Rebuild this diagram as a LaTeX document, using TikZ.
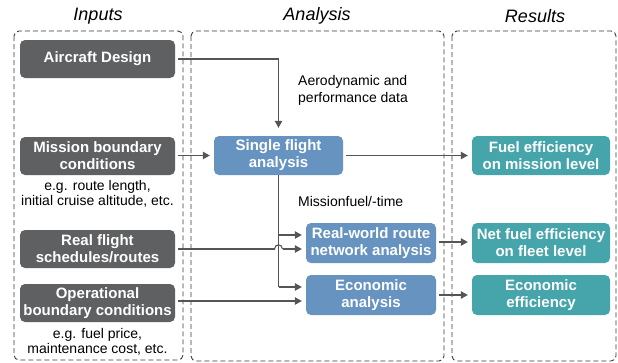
\documentclass[tikz,border=0pt]{standalone}
\usepackage{fontspec}
\setmainfont{Liberation Sans}
\usetikzlibrary{arrows.meta}
\definecolor{cgray}{HTML}{5F6062}
\definecolor{cblue}{HTML}{6693BF}
\definecolor{cteal}{HTML}{46A5AB}
\definecolor{cline}{HTML}{555555}
\definecolor{cdash}{HTML}{3A3A3A}
\tikzset{
  box/.style={rounded corners=5pt, text=white, align=center, inner sep=0pt,
    font=\bfseries\fontsize{15}{17}\selectfont, minimum height=38pt},
  inbox/.style={box, fill=cgray, minimum width=155pt},
  anbox/.style={box, fill=cblue, minimum width=130pt},
  rebox/.style={box, fill=cteal, minimum width=138pt},
  grp/.style={draw=cdash, dash pattern=on 5pt off 3pt, rounded corners=5pt, line width=0.9pt},
  note/.style={align=center, font=\fontsize{14}{15.5}\selectfont, inner sep=0pt},
  lnote/.style={align=left, font=\fontsize{14}{17}\selectfont, inner sep=0pt, anchor=west},
  ttl/.style={font=\itshape\fontsize{18}{20}\selectfont, inner sep=0pt},
  arr/.style={draw=cline, line width=1.1pt, -{Triangle[length=7pt,width=7.5pt]}, shorten <=3pt, shorten >=4pt},
  ln/.style={draw=cline, line width=1.1pt}
}
\begin{document}
\begin{tikzpicture}[x=1pt,y=-1pt]
\useasboundingbox (0,0) rectangle (618,362);
% group boxes
\draw[grp] (14,31) rectangle (183,360);
\draw[grp] (191,31) rectangle (444,361);
\draw[grp] (452,31) rectangle (616,361);
\node[ttl] (tin) at (98,16) {Inputs};
\node[ttl] (tan) at (317,16) {Analysis};
\node[ttl] (tre) at (535,16) {Results};
% inputs
\node[inbox] (ad) at (97.5,59) {Aircraft Design};
\node[inbox] (mb) at (97.5,156) {Mission boundary\\conditions};
\node[note] (mbn) at (97.5,194) {e.g. route length,\\initial cruise altitude, etc.};
\node[inbox] (rf) at (97.5,249) {Real flight\\schedules/routes};
\node[inbox] (op) at (97.5,303) {Operational\\boundary conditions};
\node[note] (opn) at (97.5,342) {e.g. fuel price,\\maintenance cost, etc.};
% analysis
\node[anbox, minimum width=129pt, minimum height=39pt] (sf) at (278.5,155.5) {Single flight\\analysis};
\node[anbox, minimum height=40pt] (rw) at (371,243) {Real-world route\\network analysis};
\node[anbox, minimum height=40pt] (ec) at (371,295) {Economic\\analysis};
% results
\node[rebox, minimum height=39pt] (fm) at (541,155.5) {Fuel efficiency\\on mission level};
\node[rebox, minimum height=40pt] (nf) at (541,243) {Net fuel efficiency\\on fleet level};
\node[rebox, minimum height=40pt] (ee) at (541,295) {Economic\\efficiency};
% labels
\node[lnote] (l1) at (298,90.5) {Aerodynamic and\\performance data};
\node[lnote] (l2) at (298,201) {Missionfuel/-time};
% connectors
\coordinate (c1) at (sf.north |- ad.east);
\draw[arr, shorten >=8pt] (ad.east) -- (c1) -- (sf.north);
\draw[arr] (mb.east |- sf.west) -- (sf.west);
\draw[arr] (sf.east) -- (fm.west);
\coordinate (b1) at (sf.south |- 0,235);
\coordinate (b2) at (sf.south |- 0,287);
\draw[ln] (sf.south) -- (b2);
\draw[arr, shorten <=0pt] (b1) -- (rw.west |- b1);
\draw[arr, shorten <=0pt] (b2) -- (ec.west |- b2);
\coordinate (h1) at ([xshift=-4pt]sf.south |- rf.east);
\coordinate (h2) at ([xshift=4pt]sf.south |- rf.east);
\draw[ln, shorten <=3pt] (rf.east) -- (h1);
\draw[ln] (h1) .. controls ([yshift=5.5pt]h1) and ([yshift=5.5pt]h2) .. (h2);
\draw[arr, shorten <=0pt] (h2) -- (rw.west |- rf.east);
\coordinate (o1) at (op.east |- 0,301);
\draw[arr] (o1) -- (ec.west |- o1);
\draw[arr] (rw.east |- 0,242) -- (nf.west |- 0,242);
\draw[arr] (ec.east) -- (ee.west);
\end{tikzpicture}
\end{document}
